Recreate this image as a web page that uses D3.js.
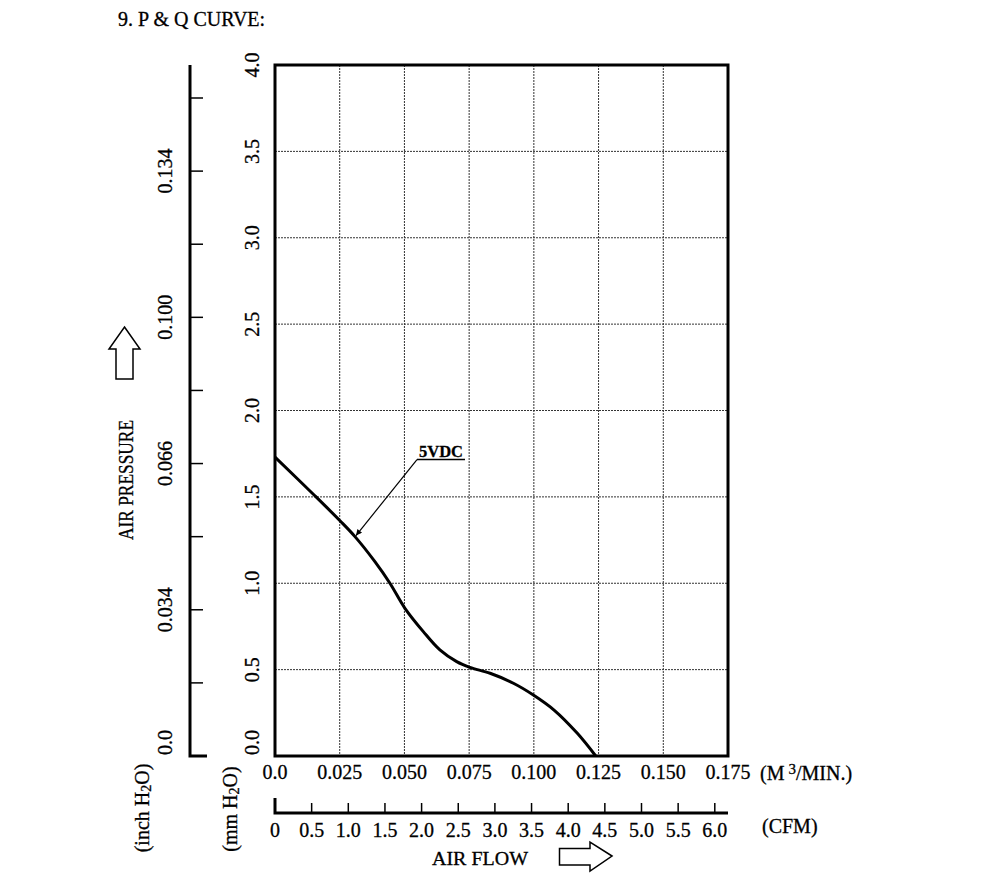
<!DOCTYPE html>
<html>
<head>
<meta charset="utf-8">
<script src="https://cdn.jsdelivr.net/npm/d3@7"></script>
<style>
body { margin: 0; background: #fff; }
text { font-family: "Liberation Serif", "DejaVu Serif", serif; fill: #000; stroke: #000; stroke-width: 0.3px; }
</style>
</head>
<body>
<div id="chart"></div>
<script>
// P-Q curve (flow in m3/min, pressure in mm H2O)
const flowM3 = [0, 0.0155, 0.0251, 0.0309, 0.0386, 0.0444, 0.0502, 0.0573, 0.0637, 0.0702, 0.0753, 0.0831, 0.0921, 0.0998, 0.1078, 0.1168, 0.1239];
const pressureMm = [1.73, 1.505, 1.362, 1.27, 1.125, 1.0, 0.855, 0.72, 0.614, 0.546, 0.513, 0.479, 0.421, 0.353, 0.266, 0.131, 0];
const seriesName = '5VDC';
const labelPoint = 3; // index of the point the 5VDC leader points at

const flowTicks = [0, 0.025, 0.050, 0.075, 0.100, 0.125, 0.150, 0.175];
const pressureTicks = [0, 0.5, 1.0, 1.5, 2.0, 2.5, 3.0, 3.5, 4.0];
const cfmTicks = [0, 0.5, 1.0, 1.5, 2.0, 2.5, 3.0, 3.5, 4.0, 4.5, 5.0, 5.5, 6.0];
const inchTickLabels = ['0.0', '', '0.034', '', '0.066', '', '0.100', '', '0.134', ''];

const width = 1000, height = 881;
const plot = { left: 275, right: 728, top: 65, bottom: 756 };

const svg = d3.select('#chart')
    .append('svg')
    .attr('width', width)
    .attr('height', height);

const x = d3.scaleLinear().domain([0, 0.175]).range([plot.left, plot.right]);
const y = d3.scaleLinear().domain([0, 4]).range([plot.bottom, plot.top]);
const cfm = d3.scaleLinear().domain([0, 0.175 * 35.3147]).range([plot.left, plot.right]);
const inchY = d3.scaleLinear().domain([0, inchTickLabels.length - 1]).range([plot.bottom, 98]);

const fmt1 = d3.format('.1f');
const fmt3 = d3.format('.3f');

// title
svg.append('text')
    .attr('x', 118).attr('y', 26)
    .style('font-size', '20px')
    .text('9. P & Q CURVE:');

// grid
svg.append('g').selectAll('line')
    .data(flowTicks.slice(1, -1))
    .enter().append('line')
    .attr('x1', d => x(d)).attr('x2', d => x(d))
    .attr('y1', plot.top).attr('y2', plot.bottom)
    .attr('stroke', '#333').attr('stroke-width', 1)
    .attr('stroke-dasharray', '2,1');

svg.append('g').selectAll('line')
    .data(pressureTicks.slice(1, -1))
    .enter().append('line')
    .attr('x1', plot.left).attr('x2', plot.right)
    .attr('y1', d => y(d)).attr('y2', d => y(d))
    .attr('stroke', '#333').attr('stroke-width', 1)
    .attr('stroke-dasharray', '2,1');

// curve
const line = d3.line()
    .x((d, i) => x(flowM3[i]))
    .y(d => y(d))
    .curve(d3.curveCatmullRom.alpha(0.5));

svg.append('path')
    .datum(pressureMm)
    .attr('fill', 'none')
    .attr('stroke', '#000')
    .attr('stroke-width', 3)
    .attr('d', line);

// plot frame
svg.append('rect')
    .attr('x', plot.left).attr('y', plot.top)
    .attr('width', plot.right - plot.left)
    .attr('height', plot.bottom - plot.top)
    .attr('fill', 'none')
    .attr('stroke', '#000')
    .attr('stroke-width', 3);

// 5VDC leader
svg.append('defs').append('marker')
    .attr('id', 'arrow')
    .attr('viewBox', '0 0 10 10')
    .attr('refX', 10).attr('refY', 5)
    .attr('markerWidth', 9).attr('markerHeight', 6)
    .attr('markerUnits', 'userSpaceOnUse')
    .attr('orient', 'auto')
    .append('path')
    .attr('d', 'M0,0L10,5L0,10Z')
    .attr('fill', '#000');

const tipX = x(flowM3[labelPoint]), tipY = y(pressureMm[labelPoint]);
const lx = tipX + 62, ly = tipY - 77;

svg.append('line')
    .attr('x1', lx).attr('y1', ly)
    .attr('x2', tipX + 1).attr('y2', tipY - 1)
    .attr('stroke', '#000').attr('stroke-width', 1.2)
    .attr('marker-end', 'url(#arrow)');

svg.append('line')
    .attr('x1', lx).attr('x2', lx + 48)
    .attr('y1', ly).attr('y2', ly)
    .attr('stroke', '#000').attr('stroke-width', 1.5);

svg.append('text')
    .attr('x', lx + 2).attr('y', ly - 3)
    .style('font-size', '16.5px')
    .style('font-weight', 'bold')
    .text(seriesName);

// x labels (m3/min)
svg.append('g').selectAll('text')
    .data(flowTicks)
    .enter().append('text')
    .attr('x', d => x(d)).attr('y', 779)
    .attr('text-anchor', 'middle')
    .style('font-size', '20px')
    .text(d => d === 0 ? '0.0' : fmt3(d));

const unit = svg.append('text')
    .attr('x', 760).attr('y', 780)
    .style('font-size', '20px');
unit.append('tspan').text('(M');
unit.append('tspan').attr('dx', 4).attr('dy', -6).style('font-size', '15px').text('3');
unit.append('tspan').attr('dy', 6).text('/MIN.)');

// mm H2O labels (the zero label sits just above the bottom line)
svg.append('g').selectAll('text')
    .data(pressureTicks)
    .enter().append('text')
    .attr('transform', d => `translate(258.5,${d === 0 ? y(d) - 1 : y(d)}) rotate(-90)`)
    .attr('text-anchor', d => d === 0 ? 'start' : 'middle')
    .style('font-size', '20px')
    .text(d => fmt1(d));

// inch H2O axis
svg.append('path')
    .attr('d', `M190,${plot.top}V${plot.bottom}H207`)
    .attr('fill', 'none')
    .attr('stroke', '#000')
    .attr('stroke-width', 3);

svg.append('g').selectAll('line')
    .data(d3.range(1, inchTickLabels.length))
    .enter().append('line')
    .attr('x1', 190).attr('x2', 203)
    .attr('y1', d => inchY(d)).attr('y2', d => inchY(d))
    .attr('stroke', '#000').attr('stroke-width', 1.5);

svg.append('g').selectAll('text')
    .data(inchTickLabels.map((t, i) => ({ t, i })).filter(d => d.t))
    .enter().append('text')
    .attr('transform', d => `translate(171.5,${d.i === 0 ? inchY(d.i) - 1 : inchY(d.i)}) rotate(-90)`)
    .attr('text-anchor', d => d.i === 0 ? 'start' : 'middle')
    .style('font-size', '20px')
    .text(d => d.t);

// CFM axis
svg.append('path')
    .attr('d', `M${plot.left},798V813H${plot.right}`)
    .attr('fill', 'none')
    .attr('stroke', '#000')
    .attr('stroke-width', 3);

svg.append('g').selectAll('line')
    .data(cfmTicks.slice(1))
    .enter().append('line')
    .attr('x1', d => cfm(d)).attr('x2', d => cfm(d))
    .attr('y1', 803).attr('y2', 813)
    .attr('stroke', '#000').attr('stroke-width', 1.5);

svg.append('g').selectAll('text')
    .data(cfmTicks)
    .enter().append('text')
    .attr('x', d => cfm(d)).attr('y', 837)
    .attr('text-anchor', 'middle')
    .style('font-size', '20px')
    .text(d => d === 0 ? '0' : fmt1(d));

svg.append('text')
    .attr('x', 762).attr('y', 833)
    .style('font-size', '20px')
    .text('(CFM)');

// axis titles
svg.append('text')
    .attr('x', 480).attr('y', 865)
    .attr('text-anchor', 'middle')
    .style('font-size', '19px')
    .attr('textLength', 96).attr('lengthAdjust', 'spacingAndGlyphs')
    .text('AIR  FLOW');

svg.append('text')
    .attr('transform', 'translate(133,480) rotate(-90)')
    .attr('text-anchor', 'middle')
    .style('font-size', '20px')
    .attr('textLength', 120).attr('lengthAdjust', 'spacingAndGlyphs')
    .text('AIR PRESSURE');

function unitLabel(tx, ty, first) {
    const t = svg.append('text')
        .attr('transform', `translate(${tx},${ty}) rotate(-90)`)
        .attr('text-anchor', 'middle')
        .style('font-size', '20px');
    t.append('tspan').text(first + ' H');
    t.append('tspan').attr('dy', 2).style('font-size', '14px').text('2');
    t.append('tspan').attr('dy', -2).text('O)');
}
unitLabel(149, 808, '(inch');
unitLabel(236.5, 809, '(mm');

// outline arrows
svg.append('path')
    .attr('d', 'M124.5,327L140,349H133V379H116V349H109Z')
    .attr('fill', '#fff')
    .attr('stroke', '#000')
    .attr('stroke-width', 1.5);

svg.append('path')
    .attr('d', 'M612,856L590,842V848.5H559.5V865H590V871Z')
    .attr('fill', '#fff')
    .attr('stroke', '#000')
    .attr('stroke-width', 1.5);
</script>
</body>
</html>
